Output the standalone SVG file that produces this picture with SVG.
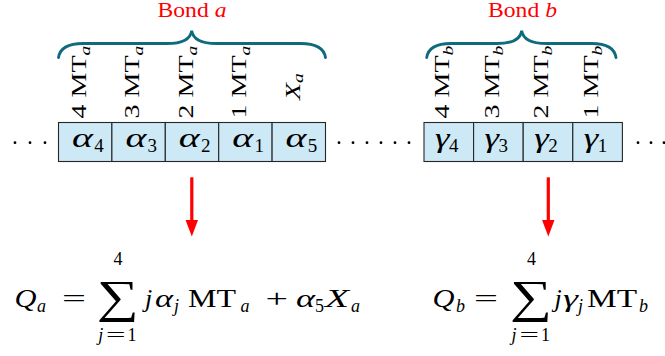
<svg xmlns="http://www.w3.org/2000/svg" width="665" height="356" viewBox="0 0 665 356">
<defs>
<style>
text{font-family:"Liberation Serif","Times New Roman",serif;fill:#000}
.i{font-style:italic}
.bond{fill:#ff0000;font-size:20px}
.lab{font-size:20px}
.lsub{font-size:14px;font-style:italic}
.cell{fill:#cde9f6;stroke:#262626;stroke-width:1.1}
.brace{fill:none;stroke:#0e6b7c;stroke-width:2.8;stroke-linecap:round}
.cv{font-size:27px;font-style:italic}
.cs{font-size:19px}
.f{font-size:26px}
.fs{font-size:18px}
.sum{font-size:46px}
.arrow{stroke:#ff0000;stroke-width:3.2;fill:none}
.dot{fill:#000}
</style>
<marker id="ah" markerUnits="userSpaceOnUse" markerWidth="20" markerHeight="14" refX="1" refY="6.4" orient="auto"><path d="M0,0 L17,6.4 L0,12.8 z" fill="#ff0000"/></marker>
</defs>
<rect width="665" height="356" fill="#fff"/>

<g id="bond-a">
<text class="bond" x="192" y="17" text-anchor="middle" textLength="69" lengthAdjust="spacingAndGlyphs">Bond <tspan class="i">a</tspan></text>
<path class="brace" d="M58.5,57.5 C60,48 68,43.5 83,43.5 L167,43.5 C182,43.5 190.5,39 191.7,30.7 C193,39 201,43.5 216.5,43.5 L300.5,43.5 C315.5,43.5 324,48 325.5,57.5"/>
</g>
<g id="bond-b">
<text class="bond" x="522.5" y="17" text-anchor="middle" textLength="69" lengthAdjust="spacingAndGlyphs">Bond <tspan class="i">b</tspan></text>
<path class="brace" d="M426.7,57.5 C428.2,48 436,43.5 451,43.5 L497,43.5 C512,43.5 520.5,39 521.7,30.7 C523,39 531,43.5 546.5,43.5 L591.7,43.5 C606.7,43.5 614.5,48 616,57.5"/>
</g>

<g id="labels-a">
<text class="lab" transform="translate(85.7,118.5) rotate(-90) scale(1.4,1)">4 MT<tspan class="lsub" dy="4">a</tspan></text>
<text class="lab" transform="translate(139.1,118.5) rotate(-90) scale(1.4,1)">3 MT<tspan class="lsub" dy="4">a</tspan></text>
<text class="lab" transform="translate(192.5,118.5) rotate(-90) scale(1.4,1)">2 MT<tspan class="lsub" dy="4">a</tspan></text>
<text class="lab" transform="translate(245.5,118.5) rotate(-90) scale(1.4,1)">1 MT<tspan class="lsub" dy="4">a</tspan></text>
<text class="lab i" transform="translate(300,100) rotate(-90) scale(1.4,1)">X<tspan class="lsub" dy="3">a</tspan></text>
</g>
<g id="labels-b">
<text class="lab" transform="translate(449,118.5) rotate(-90) scale(1.4,1)">4 MT<tspan class="lsub" dy="4">b</tspan></text>
<text class="lab" transform="translate(498.6,118.5) rotate(-90) scale(1.4,1)">3 MT<tspan class="lsub" dy="4">b</tspan></text>
<text class="lab" transform="translate(548.2,118.5) rotate(-90) scale(1.4,1)">2 MT<tspan class="lsub" dy="4">b</tspan></text>
<text class="lab" transform="translate(597.8,118.5) rotate(-90) scale(1.4,1)">1 MT<tspan class="lsub" dy="4">b</tspan></text>
</g>

<g id="cell-a4"><rect class="cell" x="58.5" y="122.5" width="53.4" height="39"/><text class="cv" x="72" y="146.5" textLength="21" lengthAdjust="spacingAndGlyphs">α</text><text class="cs" x="94.2" y="151.7">4</text></g>
<g id="cell-a3"><rect class="cell" x="111.9" y="122.5" width="53.4" height="39"/><text class="cv" x="125.4" y="146.5" textLength="21" lengthAdjust="spacingAndGlyphs">α</text><text class="cs" x="147.6" y="151.7">3</text></g>
<g id="cell-a2"><rect class="cell" x="165.3" y="122.5" width="53.4" height="39"/><text class="cv" x="178.8" y="146.5" textLength="21" lengthAdjust="spacingAndGlyphs">α</text><text class="cs" x="201" y="151.7">2</text></g>
<g id="cell-a1"><rect class="cell" x="218.7" y="122.5" width="53.4" height="39"/><text class="cv" x="232.2" y="146.5" textLength="21" lengthAdjust="spacingAndGlyphs">α</text><text class="cs" x="254.4" y="151.7">1</text></g>
<g id="cell-a5"><rect class="cell" x="272.1" y="122.5" width="53.4" height="39"/><text class="cv" x="285.6" y="146.5" textLength="21" lengthAdjust="spacingAndGlyphs">α</text><text class="cs" x="307.8" y="151.7">5</text></g>

<g id="cell-g4"><rect class="cell" x="424" y="122.5" width="49.6" height="39"/><text class="cv" x="435" y="146.5" textLength="14.5" lengthAdjust="spacingAndGlyphs">γ</text><text class="cs" x="449" y="151.7">4</text></g>
<g id="cell-g3"><rect class="cell" x="473.6" y="122.5" width="49.6" height="39"/><text class="cv" x="484.6" y="146.5" textLength="14.5" lengthAdjust="spacingAndGlyphs">γ</text><text class="cs" x="498.6" y="151.7">3</text></g>
<g id="cell-g2"><rect class="cell" x="523.2" y="122.5" width="49.6" height="39"/><text class="cv" x="534.2" y="146.5" textLength="14.5" lengthAdjust="spacingAndGlyphs">γ</text><text class="cs" x="548.2" y="151.7">2</text></g>
<g id="cell-g1"><rect class="cell" x="572.8" y="122.5" width="49.6" height="39"/><text class="cv" x="583.8" y="146.5" textLength="14.5" lengthAdjust="spacingAndGlyphs">γ</text><text class="cs" x="597.8" y="151.7">1</text></g>

<g id="dots">
<circle class="dot" cx="15" cy="142.7" r="1.4"/><circle class="dot" cx="30" cy="142.7" r="1.4"/><circle class="dot" cx="45" cy="142.7" r="1.4"/>
<circle class="dot" cx="339" cy="142.7" r="1.4"/><circle class="dot" cx="353" cy="142.7" r="1.4"/><circle class="dot" cx="367" cy="142.7" r="1.4"/>
<circle class="dot" cx="381" cy="142.7" r="1.4"/><circle class="dot" cx="395" cy="142.7" r="1.4"/><circle class="dot" cx="409" cy="142.7" r="1.4"/>
<circle class="dot" cx="638" cy="142.7" r="1.4"/><circle class="dot" cx="651" cy="142.7" r="1.4"/><circle class="dot" cx="664" cy="142.7" r="1.4"/>
</g>

<g id="connectors">
<path class="arrow" d="M191.8,177.3 L191.8,220.5" marker-end="url(#ah)"/>
<path class="arrow" d="M548.3,177.3 L548.3,220.5" marker-end="url(#ah)"/>
</g>

<g id="formula-a">
<text class="f i" x="14.5" y="306.5" textLength="22" lengthAdjust="spacingAndGlyphs">Q</text>
<text class="fs i" x="37" y="311.7">a</text>
<text class="f" x="62" y="306.5" textLength="24" lengthAdjust="spacingAndGlyphs">=</text>
<text class="sum" x="96.7" y="312" textLength="42" lengthAdjust="spacingAndGlyphs">∑</text>
<text class="fs" x="118" y="265" text-anchor="middle">4</text>
<text class="fs i" x="98.3" y="341">j</text>
<text class="fs" x="106" y="341" textLength="19.5" lengthAdjust="spacingAndGlyphs">=</text>
<text class="fs" x="127.5" y="341">1</text>
<text class="f i" x="145" y="306.5">j</text>
<text class="f i" x="155" y="306.5" textLength="18" lengthAdjust="spacingAndGlyphs">α</text>
<text class="fs i" x="174" y="311.7">j</text>
<text class="f" x="188" y="306.5" textLength="48" lengthAdjust="spacingAndGlyphs">MT</text>
<text class="fs i" x="240.5" y="311.7">a</text>
<text class="f" x="265.5" y="306.5" textLength="22.5" lengthAdjust="spacingAndGlyphs">+</text>
<text class="f i" x="296" y="306.5" textLength="19" lengthAdjust="spacingAndGlyphs">α</text>
<text class="fs" x="315" y="311.7">5</text>
<text class="f i" x="325" y="306.5" textLength="24" lengthAdjust="spacingAndGlyphs">X</text>
<text class="fs i" x="351" y="311.7">a</text>
</g>

<g id="formula-b">
<text class="f i" x="432.5" y="306.5" textLength="22" lengthAdjust="spacingAndGlyphs">Q</text>
<text class="fs i" x="456" y="311.7">b</text>
<text class="f" x="474" y="306.5" textLength="24" lengthAdjust="spacingAndGlyphs">=</text>
<text class="sum" x="510" y="312" textLength="42" lengthAdjust="spacingAndGlyphs">∑</text>
<text class="fs" x="531.5" y="265" text-anchor="middle">4</text>
<text class="fs i" x="511.5" y="341">j</text>
<text class="fs" x="519.5" y="341" textLength="19.5" lengthAdjust="spacingAndGlyphs">=</text>
<text class="fs" x="541" y="341">1</text>
<text class="f i" x="554.5" y="306.5">j</text>
<text class="f i" x="563" y="306.5" textLength="15" lengthAdjust="spacingAndGlyphs">γ</text>
<text class="fs i" x="578" y="311.7">j</text>
<text class="f" x="587" y="306.5" textLength="50" lengthAdjust="spacingAndGlyphs">MT</text>
<text class="fs i" x="639" y="311.7">b</text>
</g>
</svg>
